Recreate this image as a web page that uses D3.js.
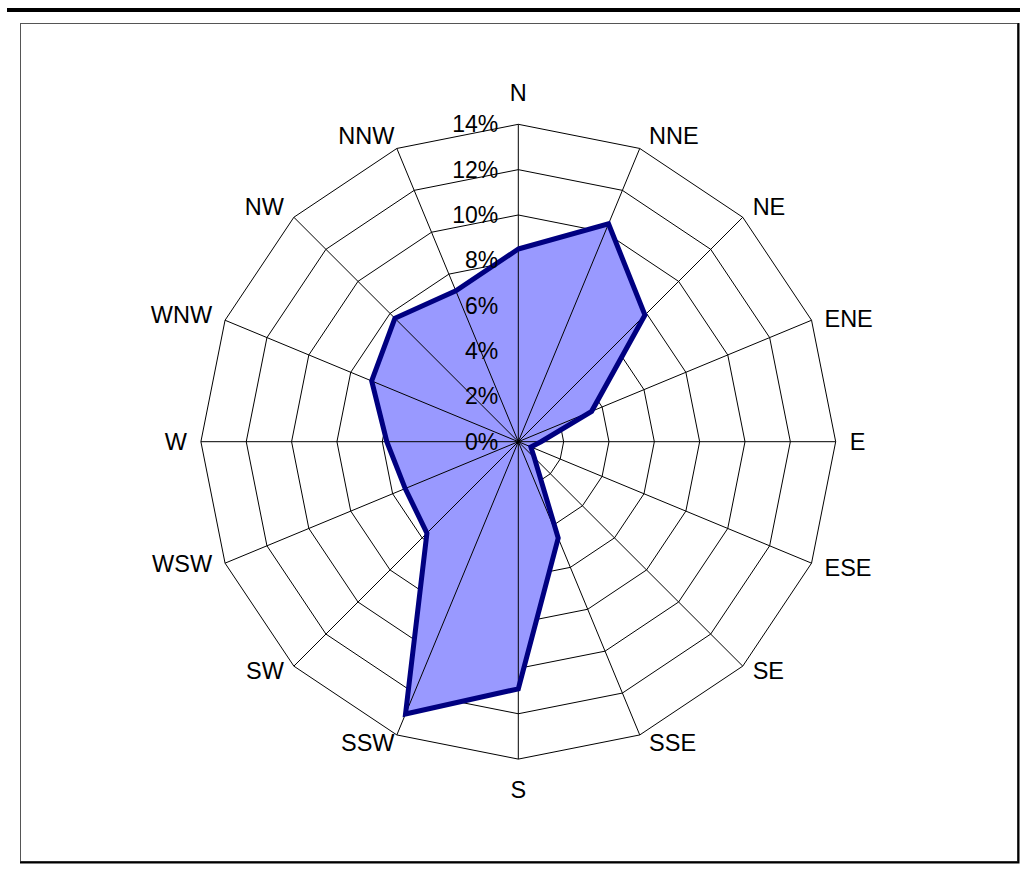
<!DOCTYPE html>
<html>
<head>
<meta charset="utf-8">
<script src="https://cdn.jsdelivr.net/npm/d3@7"></script>
<style>
  html, body { margin: 0; padding: 0; background: #fff; }
  svg { display: block; }
  text { font-family: "Liberation Sans", Arial, sans-serif; fill: #000; }
</style>
</head>
<body>
<script>
// Wind direction frequency (% of observations)
const directions = ["N", "NNE", "NE", "ENE", "E", "ESE", "SE", "SSE",
                    "S", "SSW", "SW", "WSW", "W", "WNW", "NW", "NNW"];
const frequency = [8.5, 10.4, 7.9, 3.5, 1.0, 0.6, 1.0, 4.6,
                   10.9, 13.0, 5.7, 5.4, 5.8, 7.0, 7.7, 7.2];
const ringTicks = [0, 2, 4, 6, 8, 10, 12, 14];
const ringLabels = ["0%", "2%", "4%", "6%", "8%", "10%", "12%", "14%"];

const W = 1020, H = 874;
const cx = 518.3, cy = 441.7, outerR = 317.4;

const svg = d3.select("body").append("svg")
  .attr("width", W).attr("height", H);

// heading rule and chart frame
svg.append("rect").attr("x", 7).attr("y", 8).attr("width", W - 7).attr("height", 4)
  .attr("fill", "#000");
svg.append("rect").attr("x", 20.5).attr("y", 23.5).attr("width", 997).attr("height", 838)
  .attr("fill", "none").attr("stroke", "#555").attr("stroke-width", 1);
svg.append("path").attr("d", "M20,862.5H1018.5V23")
  .attr("fill", "none").attr("stroke", "#000").attr("stroke-width", 2);

const r = d3.scaleLinear().domain([0, 14]).range([0, outerR]);
const angle = d3.scalePoint().domain(directions).range([0, 2 * Math.PI * (15 / 16)]);

const g = svg.append("g").attr("transform", `translate(${cx},${cy})`);

const radial = d3.lineRadial().curve(d3.curveLinearClosed);

// concentric grid polygons
g.append("g").selectAll("path")
  .data(ringTicks.filter(t => t > 0))
  .join("path")
  .attr("d", t => radial(directions.map(d => [angle(d), r(t)])))
  .attr("fill", "none").attr("stroke", "#000").attr("stroke-width", 1);

// data area fill
const areaPts = directions.map((d, i) => [angle(d), r(frequency[i])]);
g.append("path")
  .attr("d", radial(areaPts))
  .attr("fill", "#9999ff").attr("stroke", "none");

// spokes
g.append("g").selectAll("line")
  .data(directions)
  .join("line")
  .attr("x1", 0).attr("y1", 0)
  .attr("x2", d => r(14) * Math.sin(angle(d)))
  .attr("y2", d => -r(14) * Math.cos(angle(d)))
  .attr("stroke", "#000").attr("stroke-width", 1);

// data outline
g.append("path")
  .attr("d", radial(areaPts))
  .attr("fill", "none").attr("stroke", "#000080").attr("stroke-width", 5)
  .attr("stroke-linejoin", "miter");

// ring value labels along the north spoke
g.append("g").selectAll("text")
  .data(ringTicks)
  .join("text")
  .attr("x", -20)
  .attr("y", t => -r(t))
  .attr("text-anchor", "end")
  .attr("dominant-baseline", "central")
  .style("font-size", "23px")
  .text((t, i) => ringLabels[i]);

// compass labels
const labelR = outerR + 14;
g.append("g").selectAll("text")
  .data(directions)
  .join("text")
  .each(function (d) {
    const a = angle(d);
    const s = Math.sin(a), c = Math.cos(a);
    const vertical = Math.abs(s) < 0.2;
    let x = labelR * s;
    let y = -labelR * c;
    if (vertical) y += -c * 17;
    else {
      if (c < -0.1) y -= 5;
      if (s > 0 && Math.abs(c) > 0.1 && Math.abs(c) < 0.5) y += 4;
      if (Math.abs(s) < 0.5) x += s > 0 ? 4 : 3;
    }
    d3.select(this)
      .attr("x", x).attr("y", y)
      .attr("text-anchor", vertical ? "middle" : (s > 0 ? "start" : "end"))
      .attr("dominant-baseline", "central");
  })
  .style("font-size", "23.5px")
  .text(d => d);
</script>
</body>
</html>
